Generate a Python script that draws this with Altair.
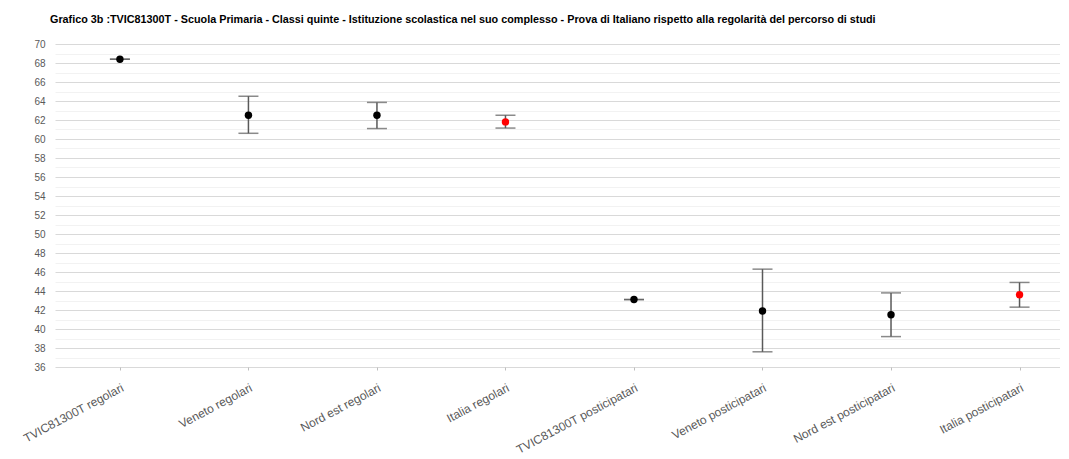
import altair as alt
import pandas as pd

categories = [
    "TVIC81300T regolari", "Veneto regolari", "Nord est regolari", "Italia regolari",
    "TVIC81300T posticipatari", "Veneto posticipatari", "Nord est posticipatari", "Italia posticipatari",
]
means = [68.4, 62.5, 62.5, 61.8, 43.1, 41.9, 41.5, 43.6]
lows = [68.4, 60.6, 61.1, 61.15, 43.1, 37.6, 39.2, 42.3]
highs = [68.4, 64.5, 63.85, 62.5, 43.1, 46.3, 43.8, 44.9]
dot_colors = ["#000000", "#000000", "#000000", "#ff0000", "#000000", "#000000", "#000000", "#ff0000"]
y_ticks = list(range(36, 71))

df = pd.DataFrame({"cat": categories, "mean": means, "low": lows, "high": highs, "color": dot_colors})

title = ("Grafico 3b :TVIC81300T - Scuola Primaria - Classi quinte - Istituzione scolastica nel suo "
         "complesso - Prova di Italiano rispetto alla regolarità del percorso di studi")

x = alt.X("cat:N", sort=categories, title=None,
          scale=alt.Scale(type="point", padding=0.41, align=0.616),
          axis=alt.Axis(labelAngle=-28, labelFontSize=12, labelColor="#595959",
                        labelFont="Liberation Sans", domain=False, ticks=True, tickSize=3,
                        tickColor="#bfbfbf", grid=False, labelPadding=12, labelLimit=300,
                        labelOverlap=False))

yaxis = alt.Axis(values=y_ticks, labelExpr="datum.value % 2 == 0 ? datum.label : ''",
                 gridColor=alt.condition("datum.value % 2 == 0", alt.value("#d9d9d9"), alt.value("#f2f2f2")),
                 gridWidth=1, domain=False, ticks=False, labelFontSize=10, labelColor="#595959",
                 labelFont="Liberation Sans", labelPadding=10, title=None, labelOverlap=False)
yscale = alt.Scale(domain=[36, 70], nice=False, zero=False)

base = alt.Chart(df)

rules = base.mark_rule(color="#595959", strokeWidth=1.5).encode(
    x=x, y=alt.Y("low:Q", scale=yscale, axis=yaxis), y2="high:Q")
cap_lo = base.mark_tick(color="#595959", size=20, thickness=1.5).encode(
    x=x, y=alt.Y("low:Q", scale=yscale, axis=yaxis))
cap_hi = base.mark_tick(color="#595959", size=20, thickness=1.5).encode(
    x=x, y=alt.Y("high:Q", scale=yscale, axis=yaxis))
dots = base.mark_circle(size=55, opacity=1).encode(
    x=x, y=alt.Y("mean:Q", scale=yscale, axis=yaxis), color=alt.Color("color:N", scale=None))

chart = alt.layer(rules, cap_lo, cap_hi, dots).properties(
    width=1005, height=323,
    title=alt.TitleParams(title, anchor="start", frame="group", fontSize=10.8, fontWeight="bold",
                          font="Liberation Sans", color="#000000", dx=-5, offset=14),
    autosize=alt.AutoSizeParams(type="none"),
    padding={"left": 47, "top": 36, "right": 0, "bottom": 90},
).configure_view(stroke=None)

chart.save("out.html", embed_options={"renderer": "svg", "actions": False})
